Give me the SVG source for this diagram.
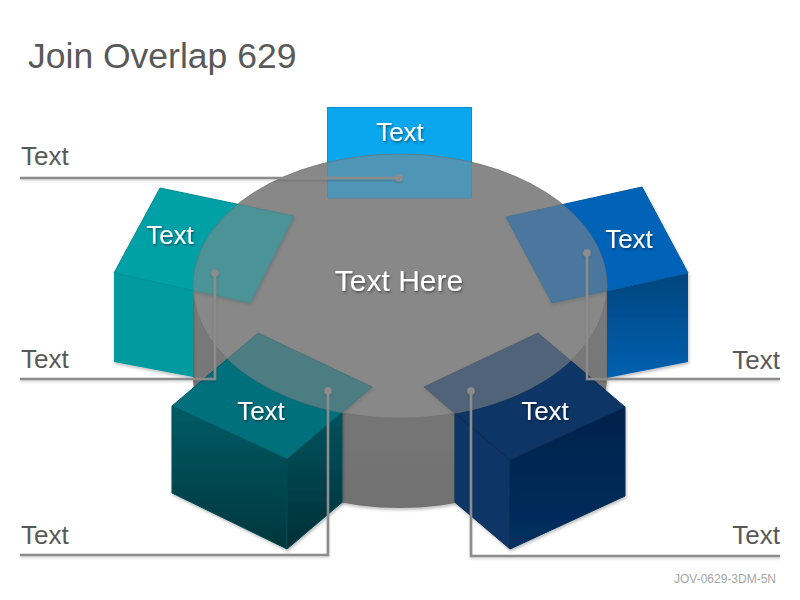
<svg xmlns="http://www.w3.org/2000/svg" width="800" height="600" viewBox="0 0 800 600">
<defs>
<style>
.lbl{font-family:"Liberation Sans",Arial,sans-serif;font-size:26px;fill:#595959;}
.wt{font-family:"Liberation Sans",Arial,sans-serif;font-size:26px;fill:#ffffff;text-anchor:middle;filter:url(#ts);}
.ln{fill:none;stroke:#8c8c8c;stroke-width:2.6;}
.dot{fill:#8c8c8c;}
.edge{stroke-width:1;stroke-linejoin:round;}
</style>
<filter id="ts" x="-20%" y="-20%" width="140%" height="140%">
<feDropShadow dx="1" dy="1.5" stdDeviation="1" flood-color="#000" flood-opacity="0.45"/>
</filter>
<filter id="sh" x="-10%" y="-10%" width="120%" height="125%">
<feDropShadow dx="1" dy="2" stdDeviation="1.5" flood-color="#000" flood-opacity="0.25"/>
</filter>
<filter id="lsh" x="-5%" y="-20%" width="110%" height="160%">
<feDropShadow dx="0" dy="1.5" stdDeviation="0.8" flood-color="#000" flood-opacity="0.18"/>
</filter>
<linearGradient id="side" x1="0" y1="0" x2="0" y2="1">
<stop offset="0" stop-color="#7b7b7b"/><stop offset="1" stop-color="#717171"/>
</linearGradient>
<linearGradient id="urFront" x1="0" y1="0" x2="0" y2="1">
<stop offset="0" stop-color="#00457e"/><stop offset="1" stop-color="#0360b0"/>
</linearGradient>
<linearGradient id="blLeft" x1="0" y1="0" x2="0" y2="1">
<stop offset="0" stop-color="#005c66"/><stop offset="1" stop-color="#00363c"/>
</linearGradient>
<linearGradient id="blRight" x1="0" y1="0" x2="0" y2="1">
<stop offset="0" stop-color="#00525e"/><stop offset="1" stop-color="#003038"/>
</linearGradient>
<linearGradient id="brRight" x1="0" y1="0" x2="0" y2="1">
<stop offset="0" stop-color="#00224a"/><stop offset="1" stop-color="#072f60"/>
</linearGradient>
</defs>
<rect width="800" height="600" fill="#ffffff"/>

<g id="cylinder" filter="url(#sh)">
<path d="M193,286 L193,377 A207,131 0 0 0 607,377 L607,286 Z" fill="url(#side)"/>
<ellipse cx="400" cy="286" rx="207" ry="132" fill="#878787"/>
</g>

<g id="cube-top">
<rect x="327.5" y="107.5" width="144" height="90.5" fill="#0aa6ee" stroke="#0a8fe0" stroke-width="1"/>
</g>

<g id="cube-upper-left" filter="url(#sh)">
<polygon points="114,273 193,290.5 193,377 114,362" fill="#009a9f"/>
<polygon class="edge" points="160,188 294,216 250,303 114,273" fill="#01a0a7" stroke="#008c92"/>
</g>

<g id="cube-upper-right" filter="url(#sh)">
<polygon points="607,291 688,273 688,362 607,378" fill="url(#urFront)"/>
<polygon class="edge" points="506,217 642,187 688,273 552,303" fill="#0564b8" stroke="#04599f"/>
</g>

<g id="cube-bottom-left" filter="url(#sh)">
<polygon class="edge" points="172,406 287,459 287,549 172,493" fill="url(#blLeft)" stroke="#004a52"/>
<polygon class="edge" points="287,459 342,412.4 342,502.4 287,549" fill="url(#blRight)" stroke="#004a52"/>
<polygon class="edge" points="258,333 372,387 287,459 172,406" fill="#006f7b" stroke="#005a62"/>
</g>

<g id="cube-bottom-right" filter="url(#sh)">
<polygon class="edge" points="455,413.3 510,460 510,549 455,502.3" fill="#0a3565" stroke="#082c55"/>
<polygon class="edge" points="510,460 625,407 625,496 510,549" fill="url(#brRight)" stroke="#082c55"/>
<polygon class="edge" points="538,333 625,407 510,460 424,387" fill="#0a3565" stroke="#082c55"/>
</g>

<g id="cylinder-top-overlay">
<ellipse cx="400" cy="286" rx="207" ry="132" fill="#888888" fill-opacity="0.55" stroke="#6e6e6e" stroke-opacity="0.6" stroke-width="1"/>
</g>

<g id="node-labels">
<text class="wt" x="400" y="141">Text</text>
<text class="wt" x="170" y="244">Text</text>
<text class="wt" x="629" y="248">Text</text>
<text class="wt" x="261" y="420">Text</text>
<text class="wt" x="545" y="420">Text</text>
<text class="wt" x="399" y="291" style="font-size:30px">Text Here</text>
</g>

<g id="connectors" filter="url(#lsh)">
<polyline class="ln" points="20,178 399,178"/>
<circle class="dot" cx="399" cy="178" r="3.8"/>
<polyline class="ln" points="20,379 215,379 215,273"/>
<circle class="dot" cx="215" cy="273" r="3.8"/>
<polyline class="ln" points="20,555 328,555 328,391"/>
<circle class="dot" cx="328" cy="391" r="3.8"/>
<polyline class="ln" points="780,379 587,379 587,253"/>
<circle class="dot" cx="587" cy="253" r="3.8"/>
<polyline class="ln" points="780,556 471,556 471,391"/>
<circle class="dot" cx="471" cy="391" r="3.8"/>
</g>

<g id="side-labels">
<text class="lbl" x="21" y="165">Text</text>
<text class="lbl" x="21" y="368">Text</text>
<text class="lbl" x="21" y="544">Text</text>
<text class="lbl" x="780" y="369" text-anchor="end">Text</text>
<text class="lbl" x="780" y="544" text-anchor="end">Text</text>
</g>

<text x="28" y="68" font-family="'Liberation Sans',Arial,sans-serif" font-size="35.5" fill="#595959">Join Overlap 629</text>
<text x="776" y="583" font-family="'Liberation Sans',Arial,sans-serif" font-size="12" fill="#a6a6a6" text-anchor="end">JOV-0629-3DM-5N</text>
</svg>
